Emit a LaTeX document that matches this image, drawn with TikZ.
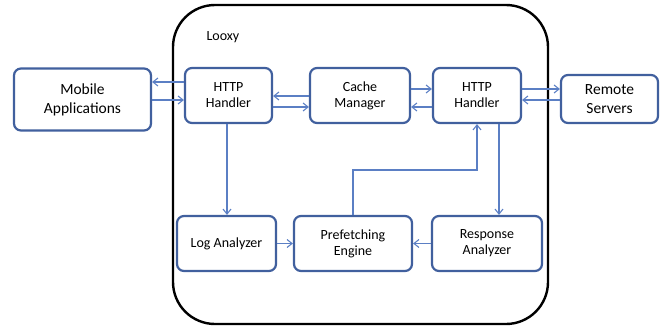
\documentclass[tikz,border=0pt]{standalone}
\usepackage{fontspec}
\setmainfont{Carlito}
\usetikzlibrary{arrows.meta}
\definecolor{boxblue}{HTML}{41609E}
\definecolor{lineblue}{HTML}{5B7FC4}
\begin{document}
\begin{tikzpicture}[x=1pt,y=-1pt,
  blk/.style={draw=boxblue, line width=2.2pt, rounded corners=7pt, fill=white, align=center, inner sep=0pt, font=\fontsize{14}{16}\selectfont},
  conn/.style={draw=lineblue, line width=1.1pt, -{Straight Barb[length=5pt,width=8pt]}}
]
\useasboundingbox (0,0) rectangle (667,327);
\draw[line width=2.4pt, rounded corners=42pt] (173,5) rectangle (548,324);
\node[anchor=west, font=\fontsize{14}{16}\selectfont] (looxy) at (203,37) {Looxy};
\node[blk, font=\fontsize{15.5}{19}\selectfont, minimum width=137pt, minimum height=62pt] (mob) at (82.5,99.5) {Mobile\\Applications};
\node[blk, minimum width=87pt, minimum height=55pt] (h1) at (228.5,95.5) {HTTP\\Handler};
\node[blk, minimum width=100pt, minimum height=55pt] (cm) at (360,95.5) {Cache\\Manager};
\node[blk, minimum width=88pt, minimum height=55pt] (h2) at (477,95.5) {HTTP\\Handler};
\node[blk, font=\fontsize{15.5}{19}\selectfont, minimum width=97pt, minimum height=48pt] (rs) at (609.5,99) {Remote\\Servers};
\node[blk, minimum width=99pt, minimum height=55pt] (la) at (226.5,243.5) {Log Analyzer};
\node[blk, minimum width=118pt, minimum height=55pt] (pe) at (353,243.5) {Prefetching\\Engine};
\node[blk, minimum width=110pt, minimum height=55pt] (ra) at (487,243.5) {Response\\Analyzer};
% horizontal connectors
\draw[conn] (h1.west |- 0,82) -- (mob.east |- 0,82);
\draw[conn] (mob.east |- 0,100) -- (h1.west |- 0,100);
\draw[conn] (cm.west |- 0,96) -- (h1.east |- 0,96);
\draw[conn] (h1.east |- 0,107) -- (cm.west |- 0,107);
\draw[conn] (cm.east |- 0,89) -- (h2.west |- 0,89);
\draw[conn] (h2.west |- 0,107) -- (cm.east |- 0,107);
\draw[conn] (h2.east |- 0,89) -- (rs.west |- 0,89);
\draw[conn] (rs.west |- 0,100) -- (h2.east |- 0,100);
% vertical connectors
\draw[conn] (h1.south -| 227,0) -- (la.north -| 227,0);
\draw[conn] (h2.south -| 499,0) -- (ra.north -| 499,0);
\draw[conn] (pe.north) |- (477,170) -- (h2.south -| 477,0);
\draw[conn] (la.east) -- (pe.west);
\draw[conn] (ra.west) -- (pe.east);
\end{tikzpicture}
\end{document}
